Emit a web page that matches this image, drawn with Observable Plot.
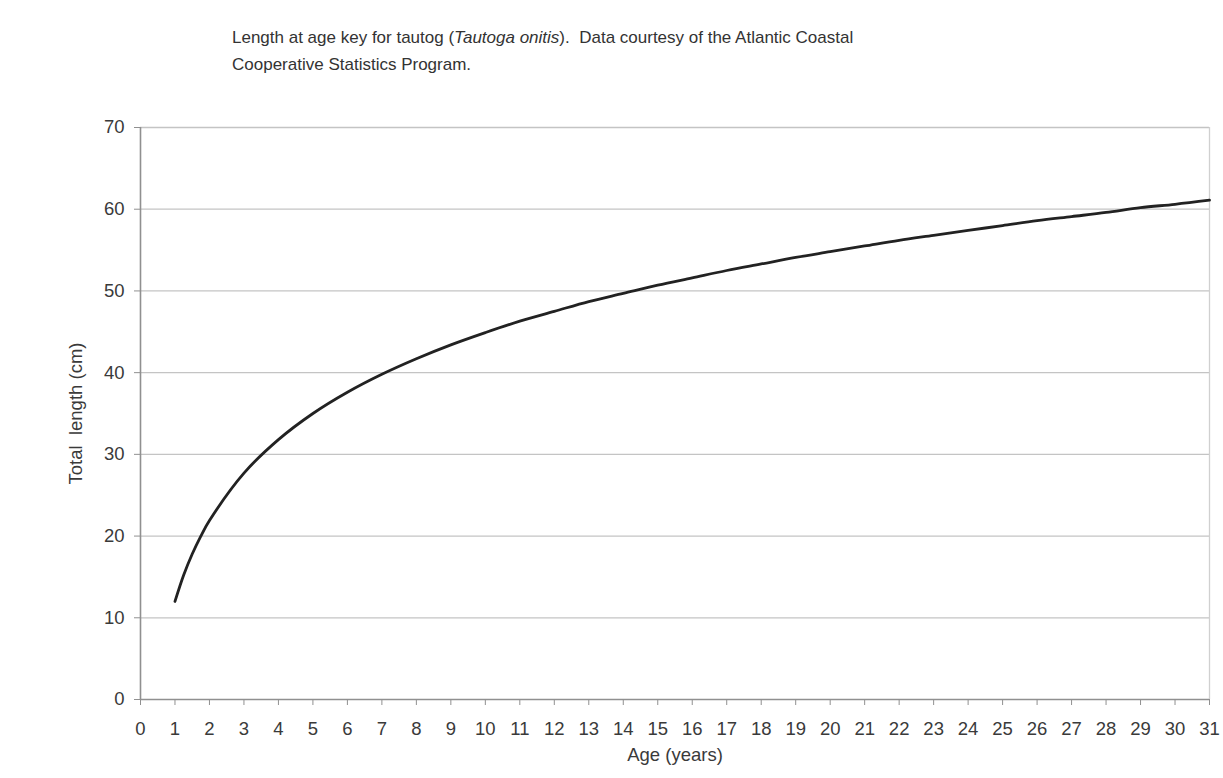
<!DOCTYPE html>
<html><head><meta charset="utf-8">
<script src="https://cdn.jsdelivr.net/npm/d3@7"></script>
<script src="https://cdn.jsdelivr.net/npm/@observablehq/plot@0.6"></script>
<style>
body{margin:0;background:#fff;font-family:"Liberation Sans",Arial,sans-serif;}
#title{position:absolute;left:232px;top:24px;font-size:17px;color:#333;line-height:27px;white-space:nowrap;}
#chart{position:absolute;left:0;top:100px;}
</style></head><body>
<div id="title">Length at age key for tautog (<i>Tautoga onitis</i>).&nbsp; Data courtesy of the Atlantic Coastal<br>Cooperative Statistics Program.</div>
<div id="chart"></div>
<script>
// Age (years) and total length (cm)
const ages    = [1, 1.25, 1.5, 1.75, 2, 3, 4, 5, 6, 7, 8, 9, 10, 11, 12, 13, 14, 15, 16, 17, 18, 19, 20, 21, 22, 23, 24, 25, 26, 27, 28, 29, 30, 31];
const lengths = [12.0, 15.2, 17.8, 20.0, 21.9, 27.7, 31.8, 35.0, 37.6, 39.8, 41.7, 43.4, 44.9, 46.3, 47.5, 48.7, 49.7, 50.7, 51.6, 52.5, 53.3, 54.1, 54.8, 55.5, 56.2, 56.8, 57.4, 58.0, 58.6, 59.1, 59.6, 60.2, 60.6, 61.1];
const xTicks = [0,1,2,3,4,5,6,7,8,9,10,11,12,13,14,15,16,17,18,19,20,21,22,23,24,25,26,27,28,29,30,31];
const yTicks = [0,10,20,30,40,50,60,70];
const xLabel = "Age (years)";
const yLabel = "Total\u00a0 length (cm)";

const data = ages.map((a, i) => ({age: a, len: lengths[i]}));

const chart = Plot.plot({
  width: 1223,
  height: 678,
  marginLeft: 140,
  marginRight: 14,
  marginTop: 27,
  marginBottom: 79,
  style: {fontFamily: '"Liberation Sans", Arial, sans-serif', fontSize: "18px", color: "#444", background: "#fff"},
  x: {domain: [0, 31], ticks: xTicks},
  y: {domain: [0, 70], ticks: yTicks},
  marks: [
    Plot.gridY(yTicks.filter(d => d > 0), {stroke: "#c4c4c4", strokeOpacity: 1, strokeWidth: 1.3}),
    Plot.ruleX([31], {stroke: "#d0d0d0", strokeWidth: 1.3}),
    Plot.ruleY([0], {stroke: "#909090", strokeWidth: 1.6}),
    Plot.ruleX([0], {stroke: "#909090", strokeWidth: 1.6}),
    Plot.axisX({ticks: xTicks, tickSize: 6, tickPadding: 16, stroke: "#909090", fill: "#3a3a3a", label: xLabel, labelAnchor: "center", labelArrow: "none", labelOffset: 61, fontSize: 18.5}),
    Plot.axisY({ticks: yTicks, tickSize: 6, tickPadding: 10, stroke: "#909090", fill: "#3a3a3a", label: yLabel, labelAnchor: "center", labelArrow: "none", labelOffset: 72, fontSize: 18.5}),
    Plot.line(data, {x: "age", y: "len", stroke: "#222", strokeWidth: 2.8, curve: "catmull-rom"})
  ]
});
document.getElementById("chart").appendChild(chart);
</script>
</body></html>
